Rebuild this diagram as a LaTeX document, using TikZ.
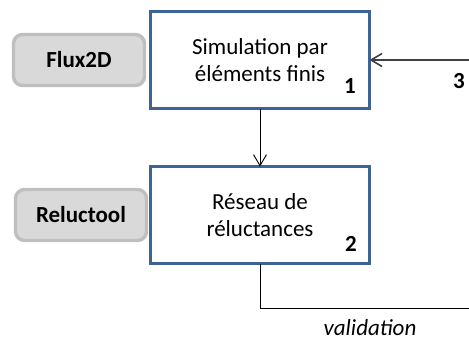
\documentclass[tikz,border=0pt]{standalone}
\usepackage{fontspec}
\setmainfont{Carlito}
\usepackage{tikz}
\usetikzlibrary{positioning,arrows.meta,calc}
\definecolor{azul}{HTML}{3E6396}
\definecolor{cinza}{HTML}{D9D9D9}
\definecolor{borda}{HTML}{BFBFBF}

\begin{document}
\begin{tikzpicture}[x=1pt,y=-1pt,
  bloco/.style={rectangle,draw=azul,line width=3.4pt,fill=white,align=center,outer sep=0pt,
    minimum width=219pt,minimum height=97pt,font=\fontsize{23}{27}\selectfont},
  outil/.style={rectangle,rounded corners=9pt,draw=borda,line width=3.4pt,fill=cinza,outer sep=0pt,
    minimum width=131pt,minimum height=51pt,font=\fontsize{23}{27}\selectfont\bfseries},
  num/.style={font=\fontsize{23}{27}\selectfont\bfseries,inner sep=0pt},
  seta/.style={-{Straight Barb[length=11pt,width=13pt]},line width=0.9pt}]
\useasboundingbox (0,0) rectangle (469,341);
\node[bloco] (sim) at (260,60) {Simulation par\\éléments finis};
\node[bloco,below=58pt of sim] (res) {Réseau de\\réluctances};
\node[outil,left=6pt of sim] (flux) {Flux2D};
\node[outil,left=4pt of res] (rel) {Reluctool};
\node[num,anchor=base east] (n1) at ([xshift=-13.5pt,yshift=15.5pt]sim.south east) {1};
\node[num,anchor=base east] (n2) at ([xshift=-12.5pt,yshift=12.5pt]res.south east) {2};
\coordinate (ret) at (469,60);
\coordinate (val) at (469,308);
\node[num,anchor=base east] (n3) at (465,88) {3};
\node[anchor=base,inner sep=0pt,font=\fontsize{23}{27}\selectfont\itshape] (vtxt) at (370,335) {validation};
\draw[seta] (sim) -- (res);
\draw[seta,line width=1.6pt,draw=black!75] (ret) -- (sim.east);
\draw[line width=0.9pt] (res.south) |- (val);
\end{tikzpicture}
\end{document}
